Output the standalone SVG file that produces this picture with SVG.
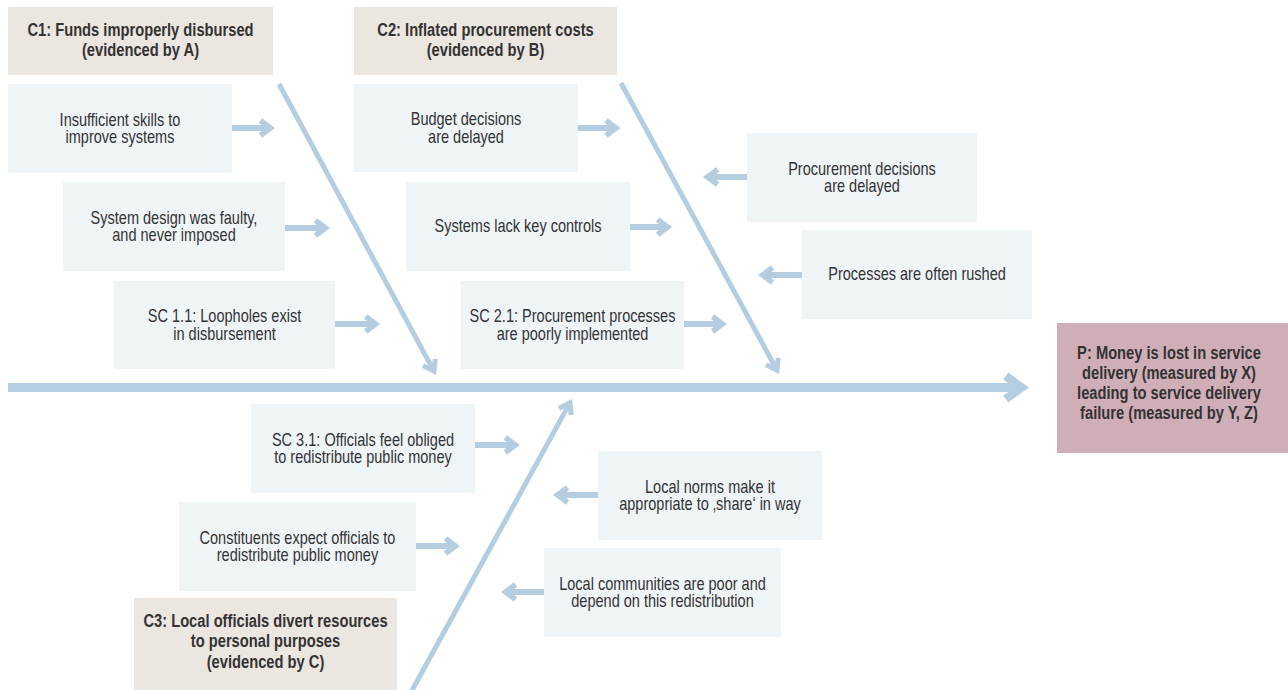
<svg xmlns="http://www.w3.org/2000/svg" width="1288" height="690" viewBox="0 0 1288 690">
  <style>
    .box { fill: #eff4f7; }
    .hdr { fill: #ece6e0; }
    .prob { fill: #d0aeb7; }
    /* condensed look: a regular sans face squeezed horizontally per label */
    text { font-family: "Liberation Sans", Arial, sans-serif; font-size: 17.5px; fill: #333333; text-anchor: middle; }
    .b { font-weight: bold; }
    .arr { stroke: #b5cde0; stroke-width: 6; fill: none; stroke-linecap: butt; marker-end: url(#ah); }
    .bone { stroke: #b5cde0; stroke-width: 5; fill: none; marker-end: url(#bh); }
    .spine { stroke: #b5cde0; stroke-width: 9; fill: none; marker-end: url(#sh); }
  </style>
  <defs>
    <marker id="ah" markerUnits="userSpaceOnUse" orient="auto" markerWidth="30" markerHeight="30" refX="0" refY="0" overflow="visible">
      <path d="M-10,-7.5 L0,0 L-10,7.5" fill="none" stroke="#b5cde0" stroke-width="5.5" stroke-linejoin="miter" stroke-miterlimit="10"/>
    </marker>
    <marker id="bh" markerUnits="userSpaceOnUse" orient="auto" markerWidth="30" markerHeight="30" refX="0" refY="0" overflow="visible">
      <path d="M-10,-7 L0,0 L-10,7" fill="none" stroke="#b5cde0" stroke-width="5" stroke-linejoin="miter" stroke-miterlimit="10"/>
    </marker>
    <marker id="sh" markerUnits="userSpaceOnUse" orient="auto" markerWidth="40" markerHeight="40" refX="0" refY="0" overflow="visible">
      <path d="M-16,-11.5 L0,0 L-16,11.5" fill="none" stroke="#b5cde0" stroke-width="8.5" stroke-linejoin="miter" stroke-miterlimit="10"/>
    </marker>
  </defs>

  <!-- connectors: spine, bones and sub-cause arrows -->
  <g id="connectors">
    <path class="spine" d="M8,387.5 H1021.7"/>
    <path class="bone" d="M279,84 L433.9,371.1"/>
    <path class="bone" d="M621,83 L776.9,370.1"/>
    <path class="bone" d="M410,694 L569.9,402.9"/>

    <path class="arr" d="M232,128 H270.4"/>
    <path class="arr" d="M285,228 H325.4"/>
    <path class="arr" d="M335,324 H375.6"/>
    <path class="arr" d="M578,128 H616"/>
    <path class="arr" d="M630,227 H667.6"/>
    <path class="arr" d="M684,324 H722.4"/>
    <path class="arr" d="M747,177 H707.6"/>
    <path class="arr" d="M802,275 H762.6"/>
    <path class="arr" d="M475,445 H515.4"/>
    <path class="arr" d="M598,495 H557.6"/>
    <path class="arr" d="M416,546 H455.4"/>
    <path class="arr" d="M544,592 H505.6"/>
  </g>

  <g id="c1">
    <rect class="hdr" x="8" y="7" width="265" height="68"/>
    <text class="b" transform="translate(140.5 0) scale(0.84 1)" y="36">C1: Funds improperly disbursed</text>
    <text class="b" transform="translate(140.5 0) scale(0.84 1)" y="56.5">(evidenced by A)</text>
  </g>
  <g id="c2">
    <rect class="hdr" x="354" y="7" width="263" height="68"/>
    <text class="b" transform="translate(485.5 0) scale(0.84 1)" y="36">C2: Inflated procurement costs</text>
    <text class="b" transform="translate(485.5 0) scale(0.84 1)" y="56.5">(evidenced by B)</text>
  </g>
  <g id="c3">
    <rect class="hdr" x="134" y="598" width="263" height="92"/>
    <text class="b" transform="translate(265.5 0) scale(0.84 1)" y="627">C3: Local officials divert resources</text>
    <text class="b" transform="translate(265.5 0) scale(0.84 1)" y="647.5">to personal purposes</text>
    <text class="b" transform="translate(265.5 0) scale(0.84 1)" y="668">(evidenced by C)</text>
  </g>
  <g id="problem">
    <rect class="prob" x="1057" y="323" width="231" height="130"/>
    <text class="b" transform="translate(1169 0) scale(0.84 1)" y="359">P: Money is lost in service</text>
    <text class="b" transform="translate(1169 0) scale(0.84 1)" y="379">delivery (measured by X)</text>
    <text class="b" transform="translate(1169 0) scale(0.84 1)" y="399">leading to service delivery</text>
    <text class="b" transform="translate(1169 0) scale(0.84 1)" y="419">failure (measured by Y, Z)</text>
  </g>

  <g id="skills">
    <rect class="box" x="8" y="84" width="224" height="89"/>
    <text transform="translate(120 0) scale(0.83 1)" y="126">Insufficient skills to</text>
    <text transform="translate(120 0) scale(0.83 1)" y="143.5">improve systems</text>
  </g>
  <g id="design">
    <rect class="box" x="63" y="182" width="222" height="89"/>
    <text transform="translate(174 0) scale(0.83 1)" y="224">System design was faulty,</text>
    <text transform="translate(174 0) scale(0.83 1)" y="241.5">and never imposed</text>
  </g>
  <g id="sc11">
    <rect class="box" x="114" y="281" width="221" height="88"/>
    <text transform="translate(224.5 0) scale(0.83 1)" y="322.5">SC 1.1: Loopholes exist</text>
    <text transform="translate(224.5 0) scale(0.83 1)" y="340">in disbursement</text>
  </g>
  <g id="budget">
    <rect class="box" x="354" y="84" width="224" height="88"/>
    <text transform="translate(466 0) scale(0.83 1)" y="125.5">Budget decisions</text>
    <text transform="translate(466 0) scale(0.83 1)" y="143">are delayed</text>
  </g>
  <g id="controls">
    <rect class="box" x="406" y="182" width="224" height="89"/>
    <text transform="translate(518 0) scale(0.83 1)" y="232.5">Systems lack key controls</text>
  </g>
  <g id="sc21">
    <rect class="box" x="461" y="281" width="223" height="88"/>
    <text transform="translate(572.5 0) scale(0.83 1)" y="322.5">SC 2.1: Procurement processes</text>
    <text transform="translate(572.5 0) scale(0.83 1)" y="340">are poorly implemented</text>
  </g>
  <g id="procurement">
    <rect class="box" x="747" y="133" width="230" height="89"/>
    <text transform="translate(862 0) scale(0.83 1)" y="175">Procurement decisions</text>
    <text transform="translate(862 0) scale(0.83 1)" y="192.5">are delayed</text>
  </g>
  <g id="rushed">
    <rect class="box" x="802" y="230" width="230" height="89"/>
    <text transform="translate(917 0) scale(0.83 1)" y="280.5">Processes are often rushed</text>
  </g>
  <g id="sc31">
    <rect class="box" x="251" y="404" width="224" height="89"/>
    <text transform="translate(363 0) scale(0.83 1)" y="446">SC 3.1: Officials feel obliged</text>
    <text transform="translate(363 0) scale(0.83 1)" y="463.5">to redistribute public money</text>
  </g>
  <g id="norms">
    <rect class="box" x="598" y="451" width="224" height="89"/>
    <text transform="translate(710 0) scale(0.83 1)" y="493">Local norms make it</text>
    <text transform="translate(710 0) scale(0.83 1)" y="510.5">appropriate to ‚share‘ in way</text>
  </g>
  <g id="constituents">
    <rect class="box" x="179" y="502" width="237" height="89"/>
    <text transform="translate(297.5 0) scale(0.83 1)" y="544">Constituents expect officials to</text>
    <text transform="translate(297.5 0) scale(0.83 1)" y="561.5">redistribute public money</text>
  </g>
  <g id="communities">
    <rect class="box" x="544" y="548" width="237" height="89"/>
    <text transform="translate(662.5 0) scale(0.83 1)" y="590">Local communities are poor and</text>
    <text transform="translate(662.5 0) scale(0.83 1)" y="607.5">depend on this redistribution</text>
  </g>
</svg>
